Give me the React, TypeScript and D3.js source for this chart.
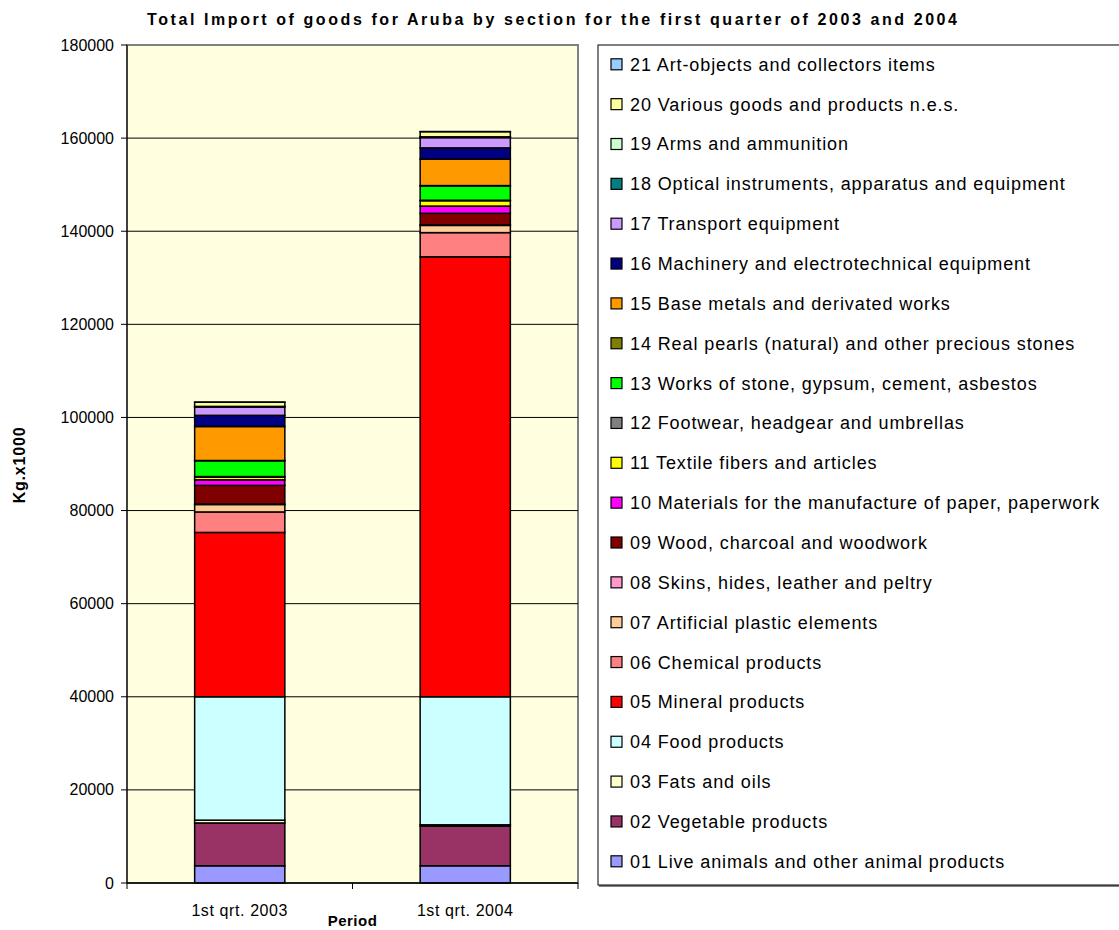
import React from "react";
import * as d3 from "d3";

const periods = ["1st qrt. 2003", "1st qrt. 2004"];

const sections = [
  "01 Live animals and other animal products",
  "02 Vegetable products",
  "03 Fats and oils",
  "04 Food products",
  "05 Mineral products",
  "06 Chemical products",
  "07 Artificial plastic elements",
  "08 Skins, hides, leather and peltry",
  "09 Wood, charcoal and woodwork",
  "10 Materials for the manufacture of paper, paperwork",
  "11 Textile fibers and articles",
  "12 Footwear, headgear and umbrellas",
  "13 Works of stone, gypsum, cement, asbestos",
  "14 Real pearls (natural) and other precious stones",
  "15 Base metals and derivated works",
  "16 Machinery and electrotechnical equipment",
  "17 Transport equipment",
  "18 Optical instruments, apparatus and equipment",
  "19 Arms and ammunition",
  "20 Various goods and products n.e.s.",
  "21 Art-objects and collectors items",
];

const values2003 = [
  3700, 9200, 600, 26500, 35300, 4400, 1600, 100, 4000, 1200, 600, 100, 3400,
  50, 7300, 2400, 1800, 100, 20, 900, 10,
];

const values2004 = [
  3700, 8500, 300, 27500, 94500, 5200, 1550, 100, 2500, 1550, 1150, 100, 3100,
  50, 5700, 2400, 2200, 150, 30, 1100, 20,
];

const colors = [
  "#9999FF", "#993366", "#FFFFCC", "#CCFFFF", "#FF0000", "#FF8080", "#FFCC99",
  "#FF99CC", "#800000", "#FF00FF", "#FFFF00", "#808080", "#00FF00", "#808000",
  "#FF9900", "#000080", "#CC99FF", "#008080", "#CCFFCC", "#FFFF99", "#99CCFF",
];

const yTicks = [0, 20000, 40000, 60000, 80000, 100000, 120000, 140000, 160000, 180000];

const FONT = "'Liberation Sans', Arial, sans-serif";

export default function App() {
  const W = 1119;
  const H = 930;
  const left = 127;
  const right = 578;
  const top = 45;
  const bottom = 883;

  const x = d3
    .scaleBand<string>()
    .domain(periods)
    .range([left, right])
    .paddingInner(0.6)
    .paddingOuter(0.3);
  const y = d3.scaleLinear().domain([0, 180000]).range([bottom, top]);

  const table = periods.map((p, i) => {
    const row: any = { period: p };
    sections.forEach((s, k) => {
      row[s] = i === 0 ? values2003[k] : values2004[k];
    });
    return row;
  });
  const stacked = d3.stack<any>().keys(sections)(table);

  const legendX = 598;
  const legendTop = 45;
  const rowStep = 39.85;
  const legendOrder = sections.map((s, i) => i).reverse();

  return (
    <svg
      width={W}
      height={H}
      style={{ position: "absolute", left: 0, top: 0, background: "#fff" }}
      fontFamily={FONT}
    >
      <text
        x={552}
        y={25}
        textAnchor="middle"
        fontWeight="bold"
        fontSize={16}
        textLength={810}
        lengthAdjust="spacing"
      >
        Total Import of goods for Aruba by section for the first quarter of 2003 and 2004
      </text>

      {/* plot area */}
      <rect x={left} y={top} width={right - left} height={bottom - top} fill="#FFFFE0" stroke="#808080" strokeWidth={2} />

      {yTicks.map((t) => (
        <g key={t}>
          {t > 0 && t < 180000 && (
            <line x1={left} x2={right} y1={y(t)} y2={y(t)} stroke="#000" strokeWidth={1} />
          )}
          <line x1={left - 6} x2={left} y1={y(t)} y2={y(t)} stroke="#000" strokeWidth={1} />
          <text x={114} y={y(t)} dy="0.35em" textAnchor="end" fontSize={16}>
            {t}
          </text>
        </g>
      ))}

      {stacked.map((layer, k) =>
        layer.map((d, i) => (
          <rect
            key={k + "-" + i}
            x={x(periods[i])}
            width={x.bandwidth()}
            y={y(d[1])}
            height={Math.max(0, y(d[0]) - y(d[1]))}
            fill={colors[k]}
            stroke="#000"
            strokeWidth={1.5}
          />
        ))
      )}

      {/* axes */}
      <line x1={left} x2={left} y1={top} y2={bottom} stroke="#000" strokeWidth={1} />
      <line x1={left} x2={right} y1={bottom} y2={bottom} stroke="#000" strokeWidth={1.5} />
      {[left, (left + right) / 2, right].map((xx, i) => (
        <line key={i} x1={xx} x2={xx} y1={bottom} y2={bottom + 6} stroke="#000" strokeWidth={1} />
      ))}
      {periods.map((p) => (
        <text key={p} x={(x(p) as number) + x.bandwidth() / 2} y={916} textAnchor="middle" fontSize={16} letterSpacing={0.6}>
          {p}
        </text>
      ))}
      <text x={(left + right) / 2} y={926} textAnchor="middle" fontWeight="bold" fontSize={15} letterSpacing={0.5}>
        Period
      </text>
      <text
        transform={`translate(25, 465) rotate(-90)`}
        textAnchor="middle"
        fontWeight="bold"
        fontSize={16}
        letterSpacing={0.8}
      >
        Kg.x1000
      </text>

      {/* legend */}
      <rect x={legendX + 1} y={legendTop + 1} width={600} height={841} fill="#808080" />
      <rect x={legendX} y={legendTop} width={600} height={840} fill="#fff" stroke="#000" strokeWidth={1} />
      {legendOrder.map((k, i) => {
        const cy = 64.3 + i * rowStep;
        return (
          <g key={k}>
            <rect x={611} y={cy - 5.5} width={11} height={11} fill={colors[k]} stroke="#000" strokeWidth={1.2} />
            <text x={630} y={cy} dy="0.36em" fontSize={18} letterSpacing={0.9}>
              {sections[k]}
            </text>
          </g>
        );
      })}
    </svg>
  );
}
